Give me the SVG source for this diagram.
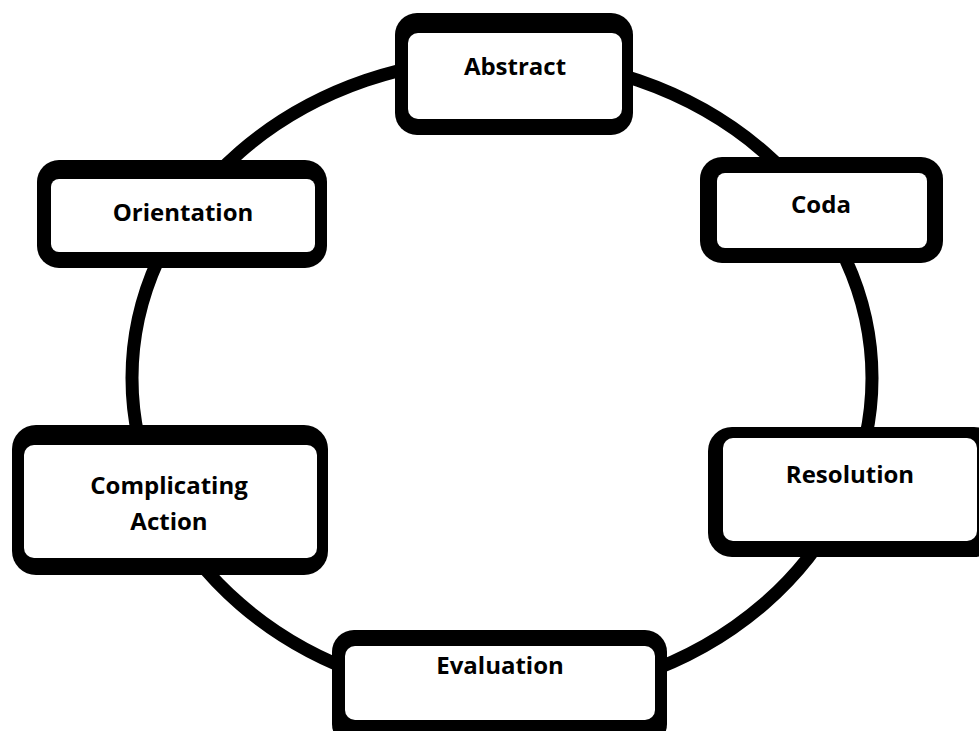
<svg xmlns="http://www.w3.org/2000/svg" width="979" height="731" viewBox="0 0 979 731">
<style>
.frame{fill:#000}
.inner{fill:#fff}
.lbl{font-family:"Open Sans","Liberation Sans",sans-serif;font-weight:700;font-size:24px;fill:#000;text-anchor:middle}
.ring{fill:none;stroke:#000;stroke-width:13}
</style>
<rect width="979" height="731" fill="#fff"/>
<g id="connectors">
<ellipse class="ring" cx="502" cy="378" rx="370" ry="320"/>
</g>
<g id="abstract">
<rect class="frame" x="395" y="13" width="238" height="122" rx="22"/>
<rect class="inner" x="408" y="33" width="214" height="86" rx="10"/>
<text class="lbl" x="515" y="75">Abstract</text>
</g>
<g id="coda">
<rect class="frame" x="700" y="157" width="243" height="106" rx="22"/>
<rect class="inner" x="717" y="173" width="210" height="75" rx="8"/>
<text class="lbl" x="821" y="213">Coda</text>
</g>
<g id="orientation">
<rect class="frame" x="37" y="160" width="290" height="108" rx="22"/>
<rect class="inner" x="51" y="179" width="264" height="73" rx="8"/>
<text class="lbl" x="183" y="221">Orientation</text>
</g>
<g id="complicating-action">
<rect class="frame" x="12" y="425" width="316" height="150" rx="24"/>
<rect class="inner" x="24" y="445" width="293" height="113" rx="10"/>
<text class="lbl" x="169" y="494">Complicating</text>
<text class="lbl" x="169" y="530">Action</text>
</g>
<g id="resolution">
<rect class="frame" x="708" y="427" width="290" height="130" rx="24"/>
<rect class="inner" x="723" y="438" width="254" height="103" rx="10"/>
<text class="lbl" x="850" y="483">Resolution</text>
</g>
<g id="evaluation">
<rect class="frame" x="332" y="630" width="335" height="116" rx="22"/>
<rect class="inner" x="345" y="646" width="310" height="74" rx="10"/>
<text class="lbl" x="500" y="674">Evaluation</text>
</g>
</svg>
